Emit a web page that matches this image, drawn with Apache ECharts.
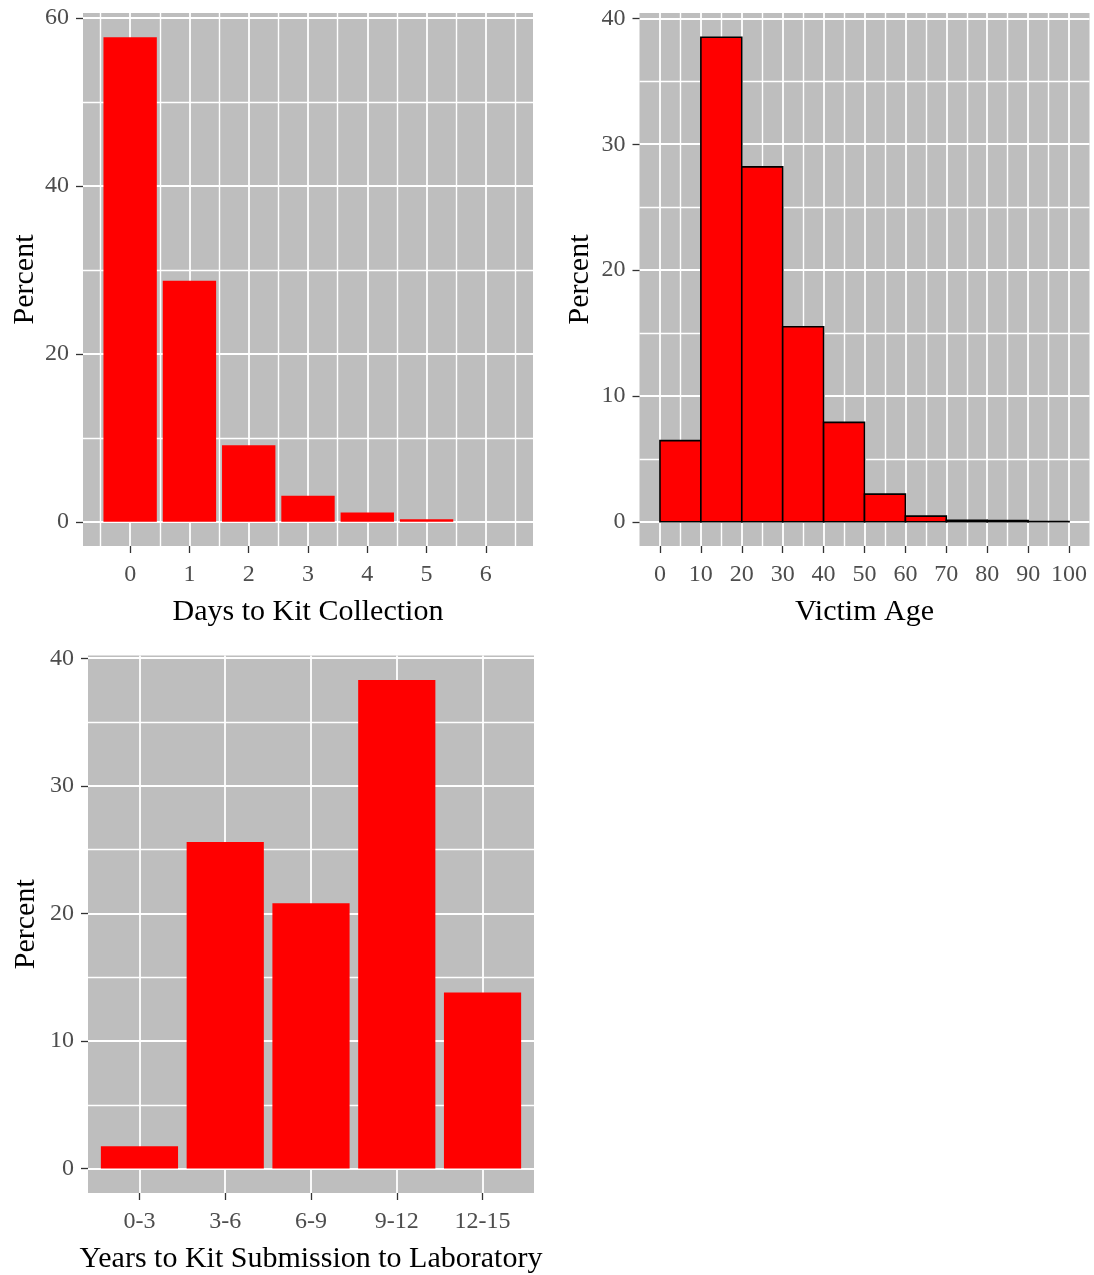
<!DOCTYPE html>
<html>
<head>
<meta charset="utf-8">
<script src="https://cdn.jsdelivr.net/npm/echarts@6/dist/echarts.min.js"></script>
<style>
  html, body { margin: 0; padding: 0; background: #ffffff; }
  #chart { width: 1094px; height: 1275px; }
</style>
</head>
<body>
<div id="chart"></div>
<script>
// ---- Days to kit collection (bar per day) ----
const dayValues = [0, 1, 2, 3, 4, 5, 6];
const dayPercent = [57.7, 28.7, 9.1, 3.1, 1.1, 0.3, 0];
const dayTicks = [0, 1, 2, 3, 4, 5, 6];
const dayMinorTicks = [-0.5, 0.5, 1.5, 2.5, 3.5, 4.5, 5.5, 6.5];
const dayPercentTicks = [0, 20, 40, 60];
const dayPercentMinor = [10, 30, 50];

// ---- Victim age (10-year histogram bins) ----
const ageBinStart = [0, 10, 20, 30, 40, 50, 60, 70, 80, 90];
const ageBinEnd = [10, 20, 30, 40, 50, 60, 70, 80, 90, 100];
const agePercent = [6.45, 38.5, 28.2, 15.5, 7.9, 2.2, 0.45, 0.12, 0.1, 0.02];
const ageTicks = [0, 10, 20, 30, 40, 50, 60, 70, 80, 90, 100];
const ageMinorTicks = [5, 15, 25, 35, 45, 55, 65, 75, 85, 95];
const agePercentTicks = [0, 10, 20, 30, 40];
const agePercentMinor = [5, 15, 25, 35];

// ---- Years to kit submission to laboratory ----
const yearGroups = ['0-3', '3-6', '6-9', '9-12', '12-15'];
const yearPercent = [1.75, 25.6, 20.8, 38.3, 13.8];
const yearPositions = [1, 2, 3, 4, 5];
const yearPercentTicks = [0, 10, 20, 30, 40];
const yearPercentMinor = [5, 15, 25, 35];

const BAR_WIDTH = 0.9;
const SERIF = '"Liberation Serif", "Times New Roman", serif';
const PANEL_BG = '#bebebe';

// 5% padding on a continuous range
function expand(lo, hi) {
  const pad = (hi - lo) * 0.05;
  return [lo - pad, hi + pad];
}

const dayX = expand(dayValues[0] - BAR_WIDTH / 2, dayValues[dayValues.length - 1] + BAR_WIDTH / 2);
const dayY = expand(0, Math.max(...dayPercent));
const ageX = expand(ageBinStart[0], ageBinEnd[ageBinEnd.length - 1]);
const ageY = expand(0, Math.max(...agePercent));
const yearX = [yearPositions[0] - 0.6, yearPositions[yearPositions.length - 1] + 0.6];
const yearY = expand(0, Math.max(...yearPercent));

function majorX(grid, range, ticks, title, formatter) {
  return {
    type: 'value', gridIndex: grid, min: range[0], max: range[1], position: 'bottom',
    axisLine: { show: false, onZero: false },
    axisTick: { show: true, customValues: ticks, length: 7, lineStyle: { color: '#333333', width: 1.3 } },
    axisLabel: { customValues: ticks, margin: 17, color: '#4d4d4d', fontFamily: SERIF, fontSize: 24, formatter: formatter },
    splitLine: { show: true, lineStyle: { color: '#ffffff', width: 1.8 } },
    name: title, nameLocation: 'middle', nameGap: 51,
    nameTextStyle: { color: '#000000', fontFamily: SERIF, fontSize: 30 }
  };
}
function minorX(grid, range, ticks) {
  return {
    type: 'value', gridIndex: grid, min: range[0], max: range[1], position: 'bottom',
    axisLine: { show: false, onZero: false },
    axisTick: { show: false, customValues: ticks },
    axisLabel: { show: false, customValues: ticks },
    splitLine: { show: true, lineStyle: { color: '#ffffff', width: 1.4 } }
  };
}
function majorY(grid, range, ticks, gap) {
  return {
    type: 'value', gridIndex: grid, min: range[0], max: range[1], position: 'left',
    axisLine: { show: false, onZero: false },
    axisTick: { show: true, customValues: ticks, length: 7, lineStyle: { color: '#333333', width: 1.3 } },
    axisLabel: { customValues: ticks, margin: 14, padding: [5, 0, 0, 0], color: '#4d4d4d', fontFamily: SERIF, fontSize: 24 },
    splitLine: { show: true, lineStyle: { color: '#ffffff', width: 1.8 } },
    name: 'Percent', nameLocation: 'middle', nameGap: gap,
    nameTextStyle: { color: '#000000', fontFamily: SERIF, fontSize: 30 }
  };
}
function minorY(grid, range, ticks) {
  return {
    type: 'value', gridIndex: grid, min: range[0], max: range[1], position: 'left',
    axisLine: { show: false, onZero: false },
    axisTick: { show: false, customValues: ticks },
    axisLabel: { show: false, customValues: ticks },
    splitLine: { show: true, lineStyle: { color: '#ffffff', width: 1.4 } }
  };
}

// Rectangles spanning [x0, x1] from 0 up to the value
function barSeries(axisIndex, data, stroke) {
  return {
    type: 'custom', xAxisIndex: axisIndex, yAxisIndex: axisIndex,
    encode: { x: [0, 1], y: 2 },
    data: data,
    clip: false,
    renderItem: function (params, api) {
      const top = api.coord([api.value(0), api.value(2)]);
      const base = api.coord([api.value(1), 0]);
      return {
        type: 'rect',
        shape: { x: top[0], y: top[1], width: base[0] - top[0], height: base[1] - top[1] },
        style: stroke
          ? { fill: '#ff0000', stroke: '#000000', lineWidth: 1.6 }
          : { fill: '#ff0000' }
      };
    }
  };
}

const dayData = dayValues.map((d, i) => [d - BAR_WIDTH / 2, d + BAR_WIDTH / 2, dayPercent[i]]);
const ageData = ageBinStart.map((s, i) => [s, ageBinEnd[i], agePercent[i]]);
const yearData = yearPositions.map((p, i) => [p - BAR_WIDTH / 2, p + BAR_WIDTH / 2, yearPercent[i]]);

const gridBase = { show: true, backgroundColor: PANEL_BG, borderWidth: 0, containLabel: false };

const option = {
  backgroundColor: '#ffffff',
  animation: false,
  grid: [
    Object.assign({ left: 83, top: 13, width: 450, height: 533 }, gridBase),
    Object.assign({ left: 639.5, top: 13, width: 450, height: 533 }, gridBase),
    Object.assign({ left: 88, top: 655.5, width: 446, height: 537.5 }, gridBase)
  ],
  xAxis: [
    majorX(0, dayX, dayTicks, 'Days to Kit Collection'),
    minorX(0, dayX, dayMinorTicks),
    majorX(1, ageX, ageTicks, 'Victim Age'),
    minorX(1, ageX, ageMinorTicks),
    majorX(2, yearX, yearPositions, 'Years to Kit Submission to Laboratory',
      v => yearGroups[yearPositions.indexOf(Math.round(v))] || ''),
    minorX(2, yearX, [])
  ],
  yAxis: [
    majorY(0, dayY, dayPercentTicks, 43),
    minorY(0, dayY, dayPercentMinor),
    majorY(1, ageY, agePercentTicks, 44),
    minorY(1, ageY, agePercentMinor),
    majorY(2, yearY, yearPercentTicks, 47),
    minorY(2, yearY, yearPercentMinor)
  ],
  series: [
    barSeries(0, dayData, false),
    barSeries(2, ageData, true),
    barSeries(4, yearData, false)
  ]
};

const chart = echarts.init(document.getElementById('chart'), null, { renderer: 'canvas' });
chart.setOption(option);
</script>
</body>
</html>
